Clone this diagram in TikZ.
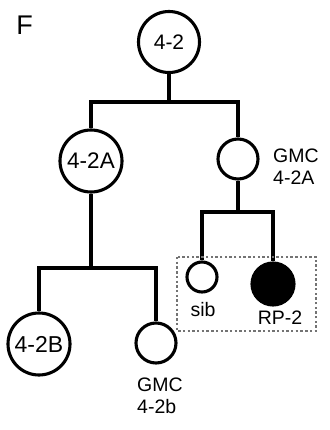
\documentclass[tikz,border=0pt]{standalone}
\usepackage{fontspec}
\setmainfont{Liberation Sans}
\begin{document}
\begin{tikzpicture}[x=1pt,y=-1pt,
  cell/.style={circle,draw,line width=3.1pt,inner sep=0pt,font=\fontsize{22.5}{26}\selectfont},
  lbl/.style={inner sep=0pt,font=\fontsize{19.5}{22}\selectfont},
  link/.style={line width=3.2pt}]
\useasboundingbox (0,0) rectangle (329,430);
% panel letter
\node[inner sep=0pt,font=\fontsize{27}{30}\selectfont] (F) at (24.5,25.5) {F};
% lineage cells
\node[cell,minimum size=61pt,font=\fontsize{21}{24}\selectfont] (root) at (169,42) {4-2};
\node[cell,minimum size=62pt] (a) at (91,161) {4-2A};
\node[cell,minimum size=40pt] (g1) at (238,159) {};
\node[cell,minimum size=62pt,font=\fontsize{23}{26}\selectfont] (b) at (39,344) {4-2B};
\node[cell,minimum size=40pt] (g2) at (156,343) {};
\node[cell,minimum size=30pt] (sib) at (202,277) {};
\node[cell,minimum size=42pt,fill=black] (rp) at (273,284) {};
% labels
\node[lbl,anchor=west,align=left] (g1l) at (273,167) {GMC\\4-2A};
\node[lbl,anchor=north west,align=left] (g2l) at (137,378) {GMC\\4-2b};
\node[lbl] (sibl) at (203,310) {sib};
\node[lbl] (rpl) at (280,318) {RP-2};
% branch points
\coordinate (j1) at (169,102);
\coordinate (j2) at (91,268);
\coordinate (j3) at (238,212);
% connectors
\draw[link] (root.south) -- (j1);
\draw[link] (a.north) |- (j1) -| (g1.north);
\draw[link] (a.south) -- (j2);
\draw[link] (b.north) |- (j2) -| (g2.north);
\draw[link] (g1.south) -- (j3);
\draw[link] (sib.north) |- (j3) -| (rp.north);
% dotted frame around the sibling pair
\draw[black!55,line width=2.6pt,dash pattern=on 2.4pt off 2.3pt] (177,257) rectangle (316,331);
\end{tikzpicture}
\end{document}
